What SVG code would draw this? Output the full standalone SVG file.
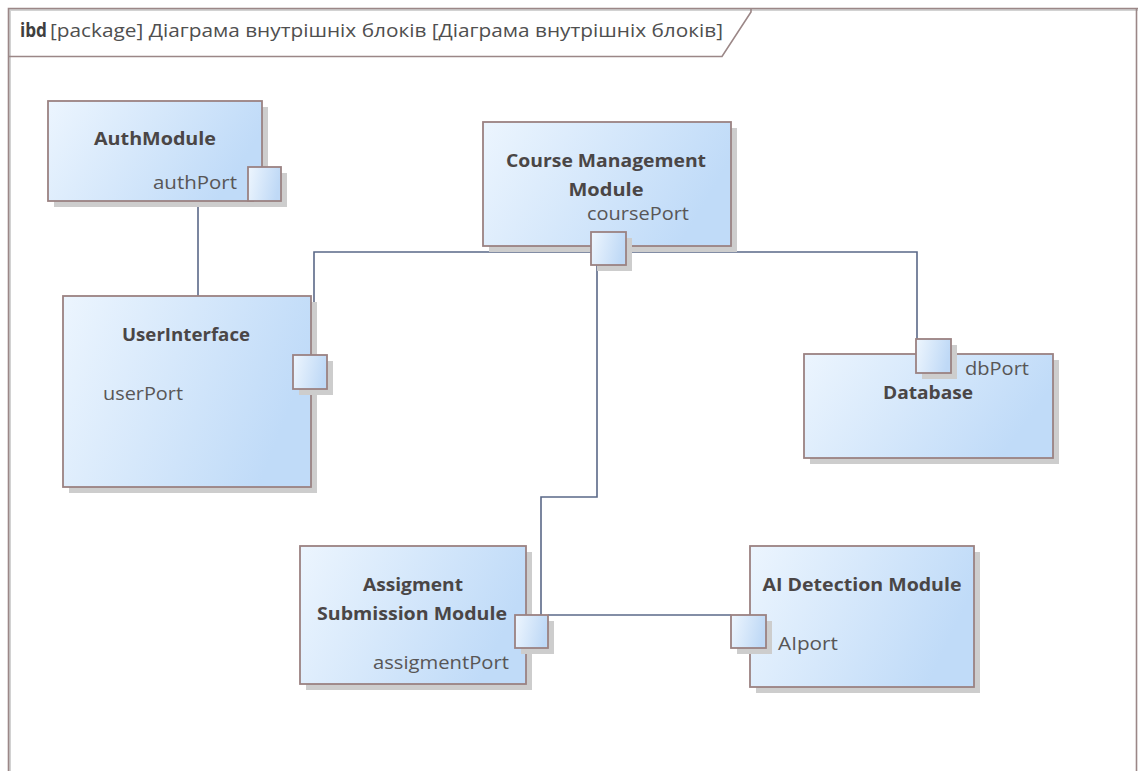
<svg xmlns="http://www.w3.org/2000/svg" width="1138" height="771" viewBox="0 0 1138 771">
  <style>
    .frame { fill: none; stroke: #9b8787; stroke-width: 1.6; }
    .frame-shadow { fill: none; stroke: #d2d2d2; stroke-width: 2; }
    .block { fill: url(#blockFill); stroke: #9b8282; stroke-width: 1.8; }
    .port { fill: url(#portFill); stroke: #9b8282; stroke-width: 1.8; }
    .shadow { fill: #cdcdcd; }
    .wire { fill: none; stroke: #5a6888; stroke-width: 1.6; }
    .title { font-family: "Open Sans", "Liberation Sans", sans-serif; font-weight: bold; font-size: 18px; fill: #4a4646; text-anchor: middle; }
    .label { font-family: "Open Sans", "Liberation Sans", sans-serif; font-size: 18px; fill: #585656; }
    .hdr { font-family: "Open Sans", "Noto Sans", "Liberation Sans", sans-serif; font-size: 19px; fill: #4f4f4f; }
  </style>
  <defs>
    <linearGradient id="blockFill" x1="0" y1="0" x2="1" y2="0.3">
      <stop offset="0" stop-color="#ecf5fe"/>
      <stop offset="1" stop-color="#c0dbf8"/>
    </linearGradient>
    <linearGradient id="portFill" x1="0" y1="0" x2="1" y2="0.2">
      <stop offset="0" stop-color="#eef6fe"/>
      <stop offset="1" stop-color="#bfd9f6"/>
    </linearGradient>
  </defs>

  <rect width="1138" height="771" fill="#ffffff"/>

  <!-- diagram frame with header tab -->
  <g id="frame">
    <path class="frame-shadow" d="M10,771 V10 H1138"/>
    <path class="frame" d="M8.5,771 V8.5 H1138"/>
    <path class="frame" d="M1136.5,8.5 V771"/>
    <path class="frame" d="M8.5,56.5 H722 L751,12 V8.5"/>
    <text class="hdr" x="20" y="37"><tspan font-weight="bold" fill="#3f3f3f" textLength="27" lengthAdjust="spacingAndGlyphs">ibd</tspan><tspan x="50" textLength="673" lengthAdjust="spacingAndGlyphs">[package] Діаграма внутрішніх блоків [Діаграма внутрішніх блоків]</tspan></text>
  </g>

  <!-- connectors -->
  <g id="connectors">
    <path class="wire" d="M198,201 V296"/>
    <path class="wire" d="M314,355 V252 H591"/>
    <path class="wire" d="M626,252 H917 V339"/>
    <path class="wire" d="M597,265 V497 H541 V615"/>
    <path class="wire" d="M548,615 H731"/>
  </g>

  <g id="AuthModule">
    <rect class="shadow" x="54" y="107" width="214" height="100"/>
    <rect class="block" x="48" y="101" width="214" height="100"/>
    <text class="title" x="155" y="145" textLength="122" lengthAdjust="spacingAndGlyphs">AuthModule</text>
    <text class="label" x="153" y="189" textLength="84" lengthAdjust="spacingAndGlyphs">authPort</text>
    <rect class="shadow" x="254" y="173" width="33" height="34"/>
    <rect class="port" x="248" y="167" width="33" height="34"/>
  </g>

  <g id="UserInterface">
    <rect class="shadow" x="69" y="302" width="248" height="191"/>
    <rect class="block" x="63" y="296" width="248" height="191"/>
    <text class="title" x="186" y="341" textLength="128" lengthAdjust="spacingAndGlyphs">UserInterface</text>
    <text class="label" x="103" y="400" textLength="80" lengthAdjust="spacingAndGlyphs">userPort</text>
    <rect class="shadow" x="299" y="361" width="34" height="34"/>
    <rect class="port" x="293" y="355" width="34" height="34"/>
  </g>

  <g id="CourseManagementModule">
    <rect class="shadow" x="489" y="128" width="248" height="124"/>
    <rect class="block" x="483" y="122" width="248" height="124"/>
    <text class="title" x="606" y="167" textLength="200" lengthAdjust="spacingAndGlyphs">Course Management</text>
    <text class="title" x="606" y="196" textLength="75" lengthAdjust="spacingAndGlyphs">Module</text>
    <text class="label" x="587" y="220" textLength="102" lengthAdjust="spacingAndGlyphs">coursePort</text>
    <rect class="shadow" x="597" y="238" width="35" height="33"/>
    <rect class="port" x="591" y="232" width="35" height="33"/>
  </g>

  <g id="Database">
    <rect class="shadow" x="810" y="360" width="249" height="104"/>
    <rect class="block" x="804" y="354" width="249" height="104"/>
    <text class="title" x="928" y="399" textLength="90" lengthAdjust="spacingAndGlyphs">Database</text>
    <text class="label" x="965" y="375" textLength="64" lengthAdjust="spacingAndGlyphs">dbPort</text>
    <rect class="shadow" x="922" y="345" width="35" height="34"/>
    <rect class="port" x="916" y="339" width="35" height="34"/>
  </g>

  <g id="AssigmentSubmissionModule">
    <rect class="shadow" x="306" y="552" width="226" height="138"/>
    <rect class="block" x="300" y="546" width="226" height="138"/>
    <text class="title" x="413" y="591" textLength="100" lengthAdjust="spacingAndGlyphs">Assigment</text>
    <text class="title" x="412" y="620" textLength="190" lengthAdjust="spacingAndGlyphs">Submission Module</text>
    <text class="label" x="373" y="669" textLength="136" lengthAdjust="spacingAndGlyphs">assigmentPort</text>
    <rect class="shadow" x="521" y="621" width="33" height="33"/>
    <rect class="port" x="515" y="615" width="33" height="33"/>
  </g>

  <g id="AIDetectionModule">
    <rect class="shadow" x="756" y="552" width="224" height="141"/>
    <rect class="block" x="750" y="546" width="224" height="141"/>
    <text class="title" x="862" y="591" textLength="199" lengthAdjust="spacingAndGlyphs">AI Detection Module</text>
    <text class="label" x="778" y="650" textLength="60" lengthAdjust="spacingAndGlyphs">AIport</text>
    <rect class="shadow" x="737" y="621" width="35" height="33"/>
    <rect class="port" x="731" y="615" width="35" height="33"/>
  </g>
</svg>
